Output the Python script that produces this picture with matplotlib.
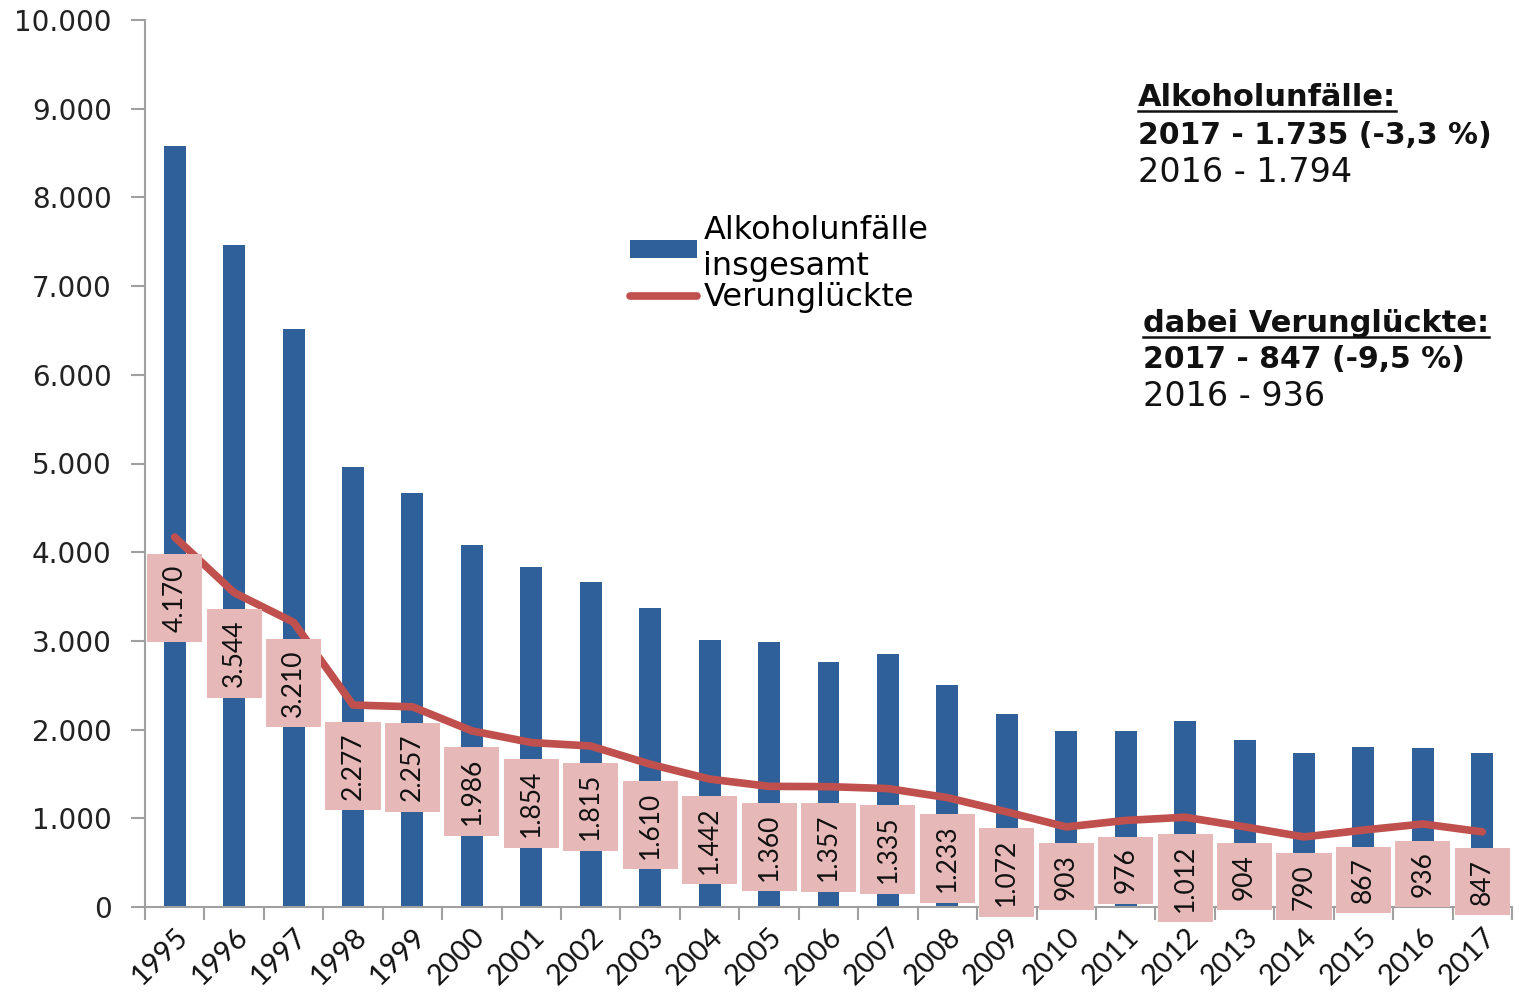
import matplotlib.pyplot as plt
from matplotlib.patches import Patch
from matplotlib.lines import Line2D
from matplotlib.path import Path

years = [str(y) for y in range(1995, 2018)]
unfaelle = [8580, 7460, 6515, 4960, 4665, 4080, 3830, 3665, 3370, 3010, 2990, 2760,
            2850, 2505, 2175, 1985, 1985, 2095, 1880, 1735, 1800, 1794, 1735]
verunglueckte = [4170, 3544, 3210, 2277, 2257, 1986, 1854, 1815, 1610, 1442, 1360, 1357,
                 1335, 1233, 1072, 903, 976, 1012, 904, 790, 867, 936, 847]
y_ticks = list(range(0, 10001, 1000))

blue = '#30609A'
red = '#C0504D'
pink = '#E6B9B8'

def de_fmt(v):
    return f"{v:,}".replace(",", ".")

# label box with different padding along / across the text
def label_box(x0, y0, width, height, mutation_size):
    pa = 0.40 * mutation_size
    pc = 0.57 * mutation_size
    x0, x1 = x0 - pa, x0 + width + pa
    y0, y1 = y0 - pc, y0 + height + pc
    return Path([(x0, y0), (x1, y0), (x1, y1), (x0, y1), (x0, y0)], closed=True)

fig = plt.figure(figsize=(15.19, 9.94), dpi=100)
ax = fig.add_axes([145 / 1519, 1 - 907 / 994, (1512 - 145) / 1519, (907 - 20) / 994])

x = list(range(len(years)))
ax.bar(x, unfaelle, width=0.37, color=blue, zorder=2)
ax.plot(x, verunglueckte, color=red, lw=5.5, solid_capstyle='round',
        solid_joinstyle='round', zorder=3)

# value boxes below each point of the line
for xi, v in zip(x, verunglueckte):
    ax.annotate(de_fmt(v), (xi, v), xytext=(0, -19.5), textcoords='offset points',
                rotation=90, ha='center', va='top', fontsize=19, family='Lato',
                color='#111111', zorder=4,
                bbox=dict(boxstyle=label_box, fc=pink, ec='none'))

ax.set_xlim(-0.5, len(years) - 0.5)
ax.set_ylim(0, 10000)
ax.set_yticks(y_ticks)
ax.set_yticklabels([de_fmt(t) for t in y_ticks], fontsize=20, family='DejaVu Sans',
                   color='#222222')
ax.set_xticks(x)
ax.set_xticklabels(years, rotation=45, ha='right', rotation_mode='anchor',
                   fontsize=21, family='Lato', color='#111111')
ax.tick_params(axis='x', length=0, pad=12)
ax.set_xticks([i - 0.5 for i in range(len(years) + 1)], minor=True)
ax.tick_params(axis='x', which='minor', length=9, width=1.5, color='#A0A0A0')
ax.tick_params(axis='y', length=10, width=1.5, color='#A0A0A0', pad=14)

for s in ['top', 'right']:
    ax.spines[s].set_visible(False)
for s in ['left', 'bottom']:
    ax.spines[s].set_color('#A0A0A0')
    ax.spines[s].set_linewidth(1.5)

handles = [Patch(facecolor=blue, edgecolor='none'),
           Line2D([0], [0], color=red, lw=5.5, solid_capstyle='round')]
leg = fig.legend(handles, ['Alkoholunfälle\ninsgesamt', 'Verunglückte'],
                 loc='upper left', bbox_to_anchor=(614 / 1519, 1 - 199 / 994),
                 frameon=False, prop={'family': 'DejaVu Sans', 'size': 23},
                 handlelength=2.1, handletextpad=0.2, labelspacing=0.0,
                 borderpad=0, handleheight=0.45)

# side notes
notes = [
    (1138, 97, 'Alkoholunfälle:', 'bold', 22, True),
    (1138, 135, '2017 - 1.735 (-3,3 %)', 'bold', 21.5, False),
    (1138, 172, '2016 - 1.794', 'normal', 24, False),
    (1143, 323, 'dabei Verunglückte:', 'bold', 22, True),
    (1143, 360, '2017 - 847 (-9,5 %)', 'bold', 21.5, False),
    (1143, 397, '2016 - 936', 'normal', 24, False),
]
renderer = fig.canvas.get_renderer()
for px, py, txt, wt, fs, under in notes:
    t = fig.text(px / 1519, 1 - py / 994, txt, fontsize=fs, fontweight=wt,
                 family='DejaVu Sans', va='center', ha='left', color='#111111')
    if under:
        bb = t.get_window_extent(renderer=renderer)
        yy = (bb.y0 + 1) / fig.bbox.height
        fig.add_artist(Line2D([bb.x0 / fig.bbox.width, bb.x1 / fig.bbox.width], [yy, yy],
                              color='#111111', lw=1.8))

fig.savefig('out.png', dpi=100)
